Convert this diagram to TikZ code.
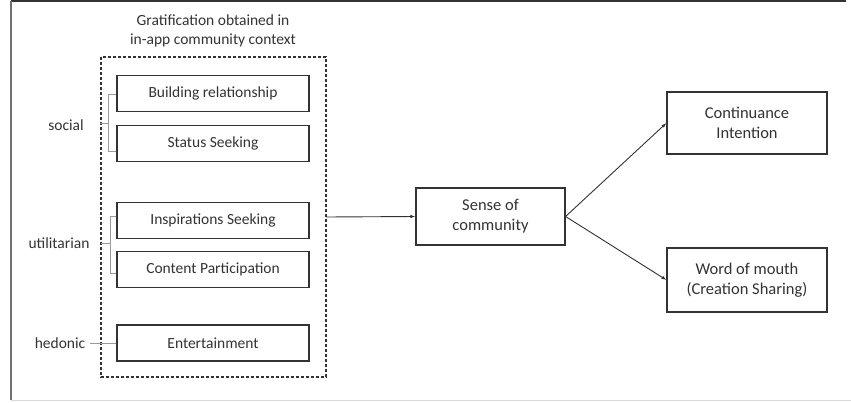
\documentclass[tikz,border=0pt]{standalone}
\usepackage{fontspec}
\setmainfont{Carlito}
\usetikzlibrary{arrows.meta}
\definecolor{ink}{HTML}{333333}
\definecolor{bracketgrey}{HTML}{9A9A9A}
\begin{document}
\begin{tikzpicture}[x=1pt,y=-1pt,
  every node/.style={text=ink, font=\fontsize{15.5}{18.5}\selectfont},
  itembox/.style={draw=ink, line width=1.1pt, minimum width=192pt, minimum height=36pt, inner sep=0pt},
  outbox/.style={draw=ink, line width=1.1pt, minimum width=160pt, minimum height=62pt, align=center, inner sep=0pt,
    font=\fontsize{16.5}{20}\selectfont},
  groupbox/.style={draw=ink, line width=1.2pt, dashed, dash pattern=on 3pt off 2pt},
  bracket/.style={draw=bracketgrey, line width=0.7pt},
  link/.style={draw=ink, line width=0.9pt, -{Latex[length=5pt,width=3.5pt]}},
  lbl/.style={anchor=center}]
  % page extent and frame
  \useasboundingbox (0,0) rectangle (851,402);
  \fill[white] (0,0) rectangle (851,402);
  \draw[ink, line width=1.6pt] (11,0.8) -- (846,0.8);
  \draw[ink!70, line width=1.2pt] (11,0.8) -- (11,400);
  \draw[black!15, line width=1pt] (11,400) -- (851,400);

  % group title and dashed enclosure
  \node[align=center] (title) at (213,31) {Gratification obtained in\\in-app community context};
  \draw[groupbox] (101,57) rectangle (326,377);
  \coordinate (gright) at (326,217);

  % gratification items
  \node[itembox] (br) at (213,93.5) {Building relationship};
  \node[itembox] (ss) at (213,143.5) {Status Seeking};
  \node[itembox] (is) at (213,220.5) {Inspirations Seeking};
  \node[itembox] (cp) at (213,269.5) {Content Participation};
  \node[itembox] (en) at (213,343) {Entertainment};

  % category labels with brackets
  \node[lbl] (social) at (66,125) {social};
  \draw[bracket] (br.west |- 0,94) -- (108,94) -- (108,151) -- (ss.west |- 0,151);
  \draw[bracket] (108,123) -- (100,123);

  \node[lbl] (util) at (59,243) {utilitarian};
  \draw[bracket] (is.west |- 0,216) -- (110,216) -- (110,273) -- (cp.west |- 0,273);
  \draw[bracket] (110,243) -- (101,243);

  \node[lbl] (hed) at (60,343) {hedonic};
  \draw[bracket] (90,343) -- (en.west);

  % outcomes
  \node[outbox, minimum width=149pt, minimum height=57pt] (soc) at (490.5,216.5) {Sense of\\community};
  \node[outbox] (ci) at (747,123) {Continuance\\Intention};
  \node[outbox, minimum height=64pt] (wom) at (747,280) {Word of mouth\\(Creation Sharing)};

  % paths
  \draw[link] (gright) -- (soc.west);
  \draw[link] (soc.east) -- (ci.west);
  \draw[link] (soc.east) -- (wom.west);
\end{tikzpicture}
\end{document}
